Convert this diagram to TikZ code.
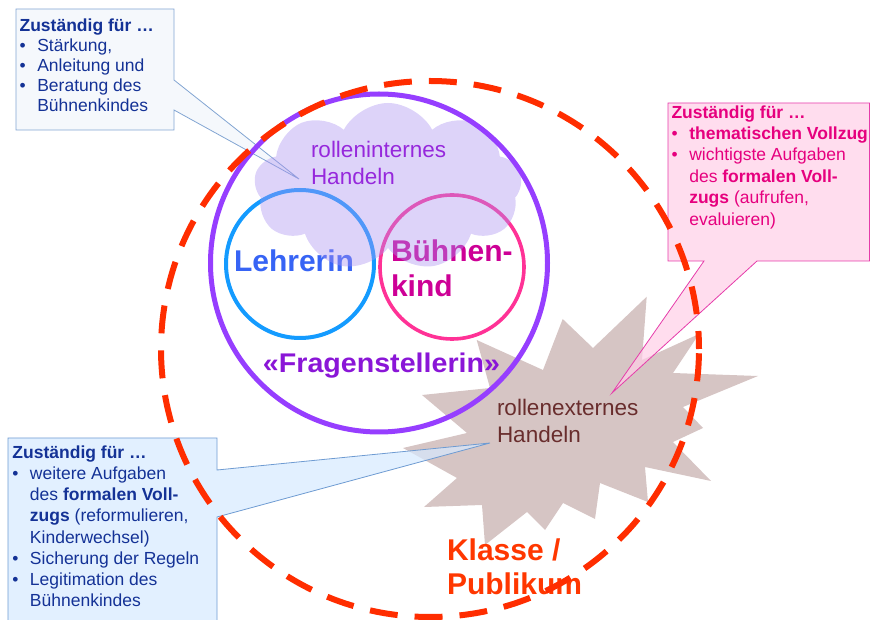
\documentclass[tikz,border=0pt]{standalone}
\usepackage{fontspec}
\setmainfont{Liberation Sans}
\usepackage{graphicx}
\usetikzlibrary{shapes.symbols}
\definecolor{dashred}{RGB}{255,45,0}
\definecolor{klasse}{RGB}{255,55,0}
\definecolor{violet1}{RGB}{150,62,255}
\definecolor{fragen}{RGB}{138,22,215}
\definecolor{bluecirc}{RGB}{20,155,255}
\definecolor{pinkcirc}{RGB}{255,50,150}
\definecolor{lehrer}{RGB}{55,100,245}
\definecolor{kind}{RGB}{205,0,150}
\definecolor{cloudc}{RGB}{170,145,240}
\definecolor{cloudtxt}{RGB}{150,40,220}
\definecolor{starc}{RGB}{214,197,196}
\definecolor{startxt}{RGB}{105,45,45}
\definecolor{navy}{RGB}{20,50,150}
\definecolor{pinktxt}{RGB}{230,0,126}
\definecolor{cOneFill}{RGB}{241,245,251}
\definecolor{cOneLine}{RGB}{130,165,210}
\definecolor{cTwoFill}{RGB}{255,206,231}
\definecolor{cTwoLine}{RGB}{230,60,170}
\definecolor{cThreeFill}{RGB}{214,234,255}
\definecolor{cThreeLine}{RGB}{110,155,210}
\newlength\bulw
\newcommand\myb[1]{\hbox{\makebox[\bulw][l]{•}#1}}
\newcommand\myc[1]{\hbox{\hspace{\bulw}#1}}
\begin{document}
\begin{tikzpicture}[x=1pt,y=-1pt,
  txt/.style={inner sep=0pt, outer sep=0pt, anchor=base west},
  callout/.style={line width=0.8pt, fill opacity=0.7, line join=miter},
  ring/.style={line width=#1},
]
\useasboundingbox (0,0) rectangle (871,620);
\clip (0,0) rectangle (871,620);
% star
\coordinate (s1) at (476.7,340);
\fill[starc] (s1) -- (543,370) -- (562.7,319) -- (593,348) -- (646.7,296.7) -- (642,360) -- (699,334) -- (673,373) -- (758,376) -- (683,407) -- (703,428) -- (673,442) -- (711,481) -- (645,467) -- (648,502) -- (600,483) -- (595,519) -- (563,503) -- (545,530) -- (527,512) -- (485,545) -- (482,505) -- (424,507) -- (457,478) -- (403,448) -- (467,433) -- (422,395) -- (490,388) -- cycle;
% callouts
\coordinate (tip1) at (299,179);
\coordinate (tip2) at (612,393);
\coordinate (tip3) at (490,443);
\draw[callout, fill=cOneFill, draw=cOneLine] (16,9) -- (174,9) -- (174,80) -- (tip1) -- (174,110) -- (174,130) -- (16,130) -- cycle;
\draw[callout, fill=cTwoFill, draw=cTwoLine] (668,103) -- (869.5,103) -- (869.5,261) -- (757,261) -- (tip2) -- (704,261) -- (668,261) -- cycle;
\draw[callout, fill=cThreeFill, draw=cThreeLine] (8,438) -- (217,438) -- (217,470) -- (tip3) -- (217,517) -- (217,640) -- (8,640) -- cycle;
% inner circles
\draw[ring=4pt, bluecirc] (300,264) circle [radius=74pt];
\draw[ring=3.6pt, pinkcirc] (452,267) circle [radius=72pt];
\node[txt, text=lehrer, font=\fontsize{30}{35}\selectfont\bfseries] (lehrerin) at (234,272) {Lehrerin};
\node[txt, text=kind, font=\fontsize{30}{35}\selectfont\bfseries] (buehnenkind) at (391,262)
  {\vtop{\baselineskip=35pt\lineskiplimit=-100pt\hbox{Bühnen-}\hbox{kind}}};
% cloud
\node[cloud, cloud puffs=9, cloud puff arc=125, minimum width=268pt, minimum height=168pt,
  fill=cloudc, fill opacity=0.4, draw=none] (cloud) at (388,187) {};
\node[txt, text=cloudtxt, font=\fontsize{22.5}{27}\selectfont] (intern) at (311,157.5)
  {\vtop{\baselineskip=27pt\lineskiplimit=-100pt\hbox{rolleninternes}\hbox{Handeln}}};
% purple circle
\draw[ring=5pt, violet1] (379,263) ellipse [x radius=168.5pt, y radius=169pt];
\node[inner sep=0pt, anchor=base, text=fragen, font=\fontsize{27}{30}\selectfont\bfseries] (fragen) at (381.5,372.5)
  {\scalebox{1.06}[1]{«Fragenstellerin»}};
% star text
\node[txt, text=startxt, font=\fontsize{22.5}{27}\selectfont] (extern) at (497,416)
  {\vtop{\baselineskip=27pt\lineskiplimit=-100pt\hbox{rollenexternes}\hbox{Handeln}}};
% Klasse / Publikum
\node[txt, text=klasse, font=\fontsize{30}{34.3}\selectfont\bfseries] (klasse) at (447,560)
  {\vtop{\baselineskip=34.3pt\lineskiplimit=-100pt\hbox{Klasse /}\hbox{Publikum}}};
% callout texts
\node[txt, text=navy, font=\fontsize{17.5}{20}\selectfont] (t1) at (19.6,31.7)
  {\setlength\bulw{17.7pt}\vtop{\baselineskip=20pt\lineskiplimit=-100pt
   \hbox{\textbf{Zuständig für …}}
   \myb{Stärkung,}
   \myb{Anleitung und}
   \myb{Beratung des}
   \myc{Bühnenkindes}}};
\node[txt, text=pinktxt, font=\fontsize{17.5}{21.3}\selectfont] (t2) at (671.5,118.3)
  {\setlength\bulw{17.8pt}\vtop{\baselineskip=21.35pt\lineskiplimit=-100pt
   \hbox{\textbf{Zuständig für …}}
   \myb{\textbf{thematischen Vollzug}}
   \myb{wichtigste Aufgaben}
   \myc{des \textbf{formalen Voll-}}
   \myc{\textbf{zugs} (aufrufen,}
   \myc{evaluieren)}}};
\node[txt, text=navy, font=\fontsize{17.5}{21.2}\selectfont] (t3) at (12.5,458.3)
  {\setlength\bulw{17.5pt}\vtop{\baselineskip=21.2pt\lineskiplimit=-100pt
   \hbox{\textbf{Zuständig für …}}
   \myb{weitere Aufgaben}
   \myc{des \textbf{formalen Voll-}}
   \myc{\textbf{zugs} (reformulieren,}
   \myc{Kinderwechsel)}
   \myb{Sicherung der Regeln}
   \myb{Legitimation des}
   \myc{Bühnenkindes}}};
% red dashed ellipse
\draw[dashred, line width=6pt, dash pattern=on 28pt off 17pt, dash phase=10pt] (430,349) ellipse [x radius=269pt, y radius=268pt];
\end{tikzpicture}
\end{document}
